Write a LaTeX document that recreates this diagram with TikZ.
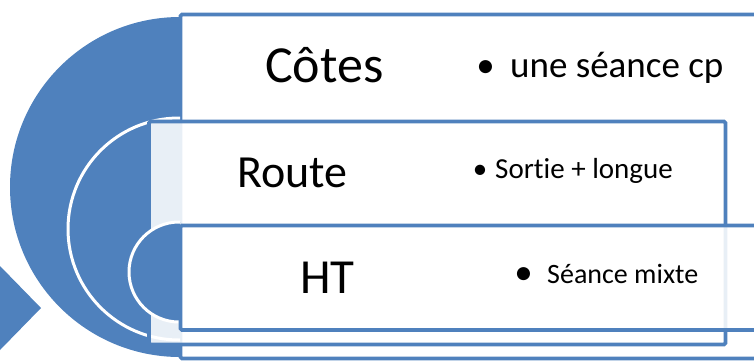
\documentclass[tikz,border=0pt]{standalone}
\usepackage{fontspec}
\setmainfont{Carlito}[Ligatures=CommonOff]
\definecolor{tblue}{RGB}{79,129,189}
\begin{document}
\begin{tikzpicture}[x=1pt,y=-1pt,
  disc/.style={fill=tblue},
  ring/.style={fill=tblue, draw=white, line width=3pt},
  panel/.style={draw=tblue, line width=3.8pt, fill=white, fill opacity=0.875, rounded corners=1.5pt},
  lbl/.style={inner sep=0pt, anchor=base west, text=black},
  dot/.style={inner sep=0pt, anchor=base, text=black},
  fs/.style={font=\fontsize{#1}{#1}\selectfont}]
\clip (0,0) rectangle (754,360);
\useasboundingbox (0,0) rectangle (754,360);

% outer level: large half disc and pointer
\begin{scope}
  \clip (-10,-10) rectangle (180,370);
  \fill[disc] (180,187) circle[radius=170];
\end{scope}
\fill[disc] (0,266) -- (41,308) -- (0,350) -- (-42,308) -- cycle;
\path[panel] (180.5,14.5) rectangle (800,358.5);

% middle level
\begin{scope}
  \clip (-10,-10) rectangle (180,370);
  \path[ring] (179,229) circle[radius=111];
\end{scope}
\path[panel] (149,121.5) rectangle (725.5,344.5);

% inner level
\begin{scope}
  \clip (-10,-10) rectangle (180,370);
  \path[ring] (179,272) circle[radius=50];
\end{scope}
\path[panel] (180.5,225.5) rectangle (800,330);

% labels
\node[lbl, fs=52] (cotes) at (265,82) {Côtes};
\node[dot, fs=37] (cotesdot) at (485.5,77) {•};
\node[lbl, fs=37] (cotesitem) at (510,77) {une séance cp};

\node[lbl, fs=46] (route) at (237,187) {Route};
\node[dot, fs=29] (routedot) at (480,178) {•};
\node[lbl, fs=29] (routeitem) at (495,178) {Sortie + longue};

\node[lbl, fs=49] (ht) at (300,293) {HT};
\node[dot, fs=37] (htdot) at (523.5,284) {•};
\node[lbl, fs=28] (htitem) at (547,283) {Séance mixte};
\end{tikzpicture}
\end{document}
